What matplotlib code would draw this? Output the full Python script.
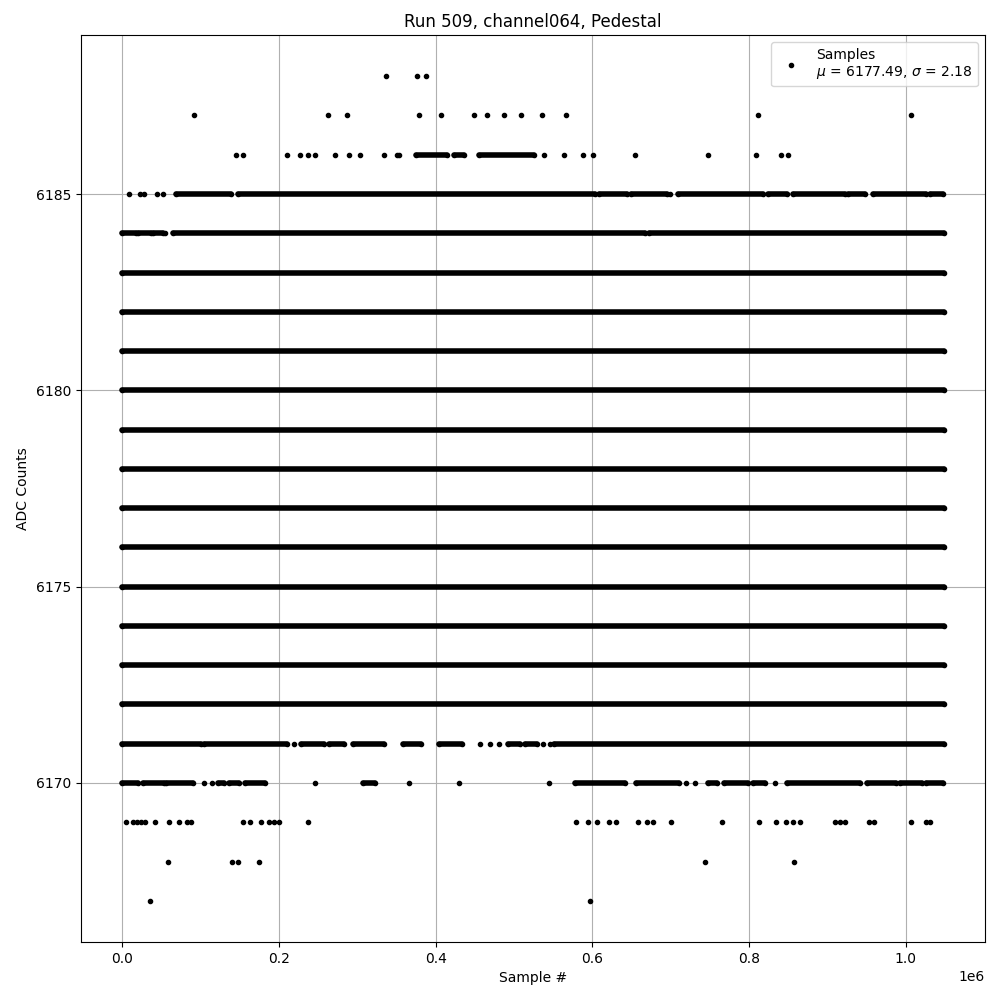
import numpy as np
import matplotlib
matplotlib.use('Agg')
import matplotlib.pyplot as plt

# sample positions below are in units of 1e6 samples
scale = 1e6
n_samples = 1048576
last = (n_samples - 1) / scale

# ADC levels that are hit all the way along the run
full_levels = [6172, 6173, 6174, 6175, 6176, 6177, 6178, 6179, 6180, 6181, 6182, 6183]

# levels hit often but with gaps: (start, end) stretches
runs_6186 = [(0.3745, 0.4149), (0.4234, 0.4361), (0.4552, 0.5252)]
runs_6185 = [(0.0688, 0.1389), (0.1474, 0.6038), (0.608, 0.644), (0.649, 0.695),
             (0.709, 0.818), (0.8246, 0.848), (0.8565, 0.922), (0.9265, 0.948),
             (0.958, 1.026), (1.0306, 1.0475)]
runs_6184 = [(0.0, 0.0178), (0.0208, 0.037), (0.039, 0.0518), (0.0645, 0.6675),
             (0.6717, last)]
runs_6171 = [(0.0, 0.1006), (0.104, 0.211), (0.228, 0.2577), (0.264, 0.283),
             (0.295, 0.334), (0.359, 0.381), (0.404, 0.434), (0.4926, 0.508),
             (0.5146, 0.5295), (0.5507, last)]
runs_6170 = [(0.0, 0.02), (0.027, 0.053), (0.056, 0.090), (0.122, 0.130),
             (0.1367, 0.1494), (0.157, 0.1826), (0.3078, 0.3223), (0.578, 0.642),
             (0.656, 0.710), (0.748, 0.759), (0.768, 0.799), (0.8055, 0.820),
             (0.848, 0.941), (0.950, 0.988), (0.992, 1.020), (1.026, 1.0475)]

# single outlier samples
pts_6188 = [0.3367, 0.3767, 0.3876]
pts_6187 = [0.0921, 0.2628, 0.2866, 0.3788, 0.4068, 0.4488, 0.4654, 0.4875,
            0.5087, 0.5354, 0.566, 0.8119, 1.0068]
pts_6186 = [0.1452, 0.1546, 0.2106, 0.2272, 0.2378, 0.2467, 0.2722, 0.2900,
            0.3036, 0.3342, 0.3503, 0.3533, 0.538, 0.5635, 0.5876, 0.6004,
            0.6539, 0.7481, 0.8093, 0.8408, 0.8501]
pts_6185 = [0.0093, 0.0233, 0.0284, 0.0446, 0.0522, 0.699]
pts_6184 = [0.0552]
pts_6171 = [0.2195, 0.457, 0.470, 0.4815, 0.5367, 0.5456]
pts_6170 = [0.1049, 0.1142, 0.2463, 0.3656, 0.4297, 0.5444, 0.7197, 0.7312, 0.8335]
pts_6169 = [0.0055, 0.0136, 0.019, 0.0242, 0.0293, 0.042, 0.0603, 0.073, 0.0828,
            0.0879, 0.1546, 0.1635, 0.1775, 0.1877, 0.194, 0.2004, 0.2374, 0.5788,
            0.594, 0.6055, 0.6208, 0.6297, 0.6577, 0.670, 0.678, 0.6998, 0.766,
            0.813, 0.8348, 0.8475, 0.8565, 0.865, 0.9096, 0.916, 0.9223, 0.9533,
            0.9592, 1.0068, 1.0263, 1.0306]
pts_6168 = [0.059, 0.1401, 0.1474, 0.1749, 0.7443, 0.8577]
pts_6167 = [0.0361, 0.5966]

mu = 6177.49
sigma = 2.18

runs = {6186: runs_6186, 6185: runs_6185, 6184: runs_6184, 6171: runs_6171, 6170: runs_6170}
for lv in full_levels:
    runs[lv] = [(0.0, last)]
pts = {6188: pts_6188, 6187: pts_6187, 6186: pts_6186, 6185: pts_6185, 6184: pts_6184,
       6171: pts_6171, 6170: pts_6170, 6169: pts_6169, 6168: pts_6168, 6167: pts_6167}

fig, ax = plt.subplots(figsize=(10, 10), dpi=100)

px, py = [], []
for lv, xs in pts.items():
    px += [x * scale for x in xs]
    py += [lv] * len(xs)
# runs' end points are also samples
for lv, rr in runs.items():
    for a, b in rr:
        px += [a * scale, b * scale]
        py += [lv, lv]

ax.plot(px, py, 'k.', label='Samples\n$\\mu$ = %.2f, $\\sigma$ = %.2f' % (mu, sigma))

for lv, rr in runs.items():
    starts = [a * scale for a, b in rr]
    ends = [b * scale for a, b in rr]
    ax.hlines([lv] * len(rr), starts, ends, colors='k', linewidth=4, capstyle='round')

ax.set_yticks([6170, 6175, 6180, 6185])
ax.set_title('Run 509, channel064, Pedestal')
ax.set_xlabel('Sample #')
ax.set_ylabel('ADC Counts')
ax.grid(True)
ax.legend(loc='upper right')
fig.subplots_adjust(left=0.081, right=0.985, top=0.965, bottom=0.058)
fig.savefig('out.png')
